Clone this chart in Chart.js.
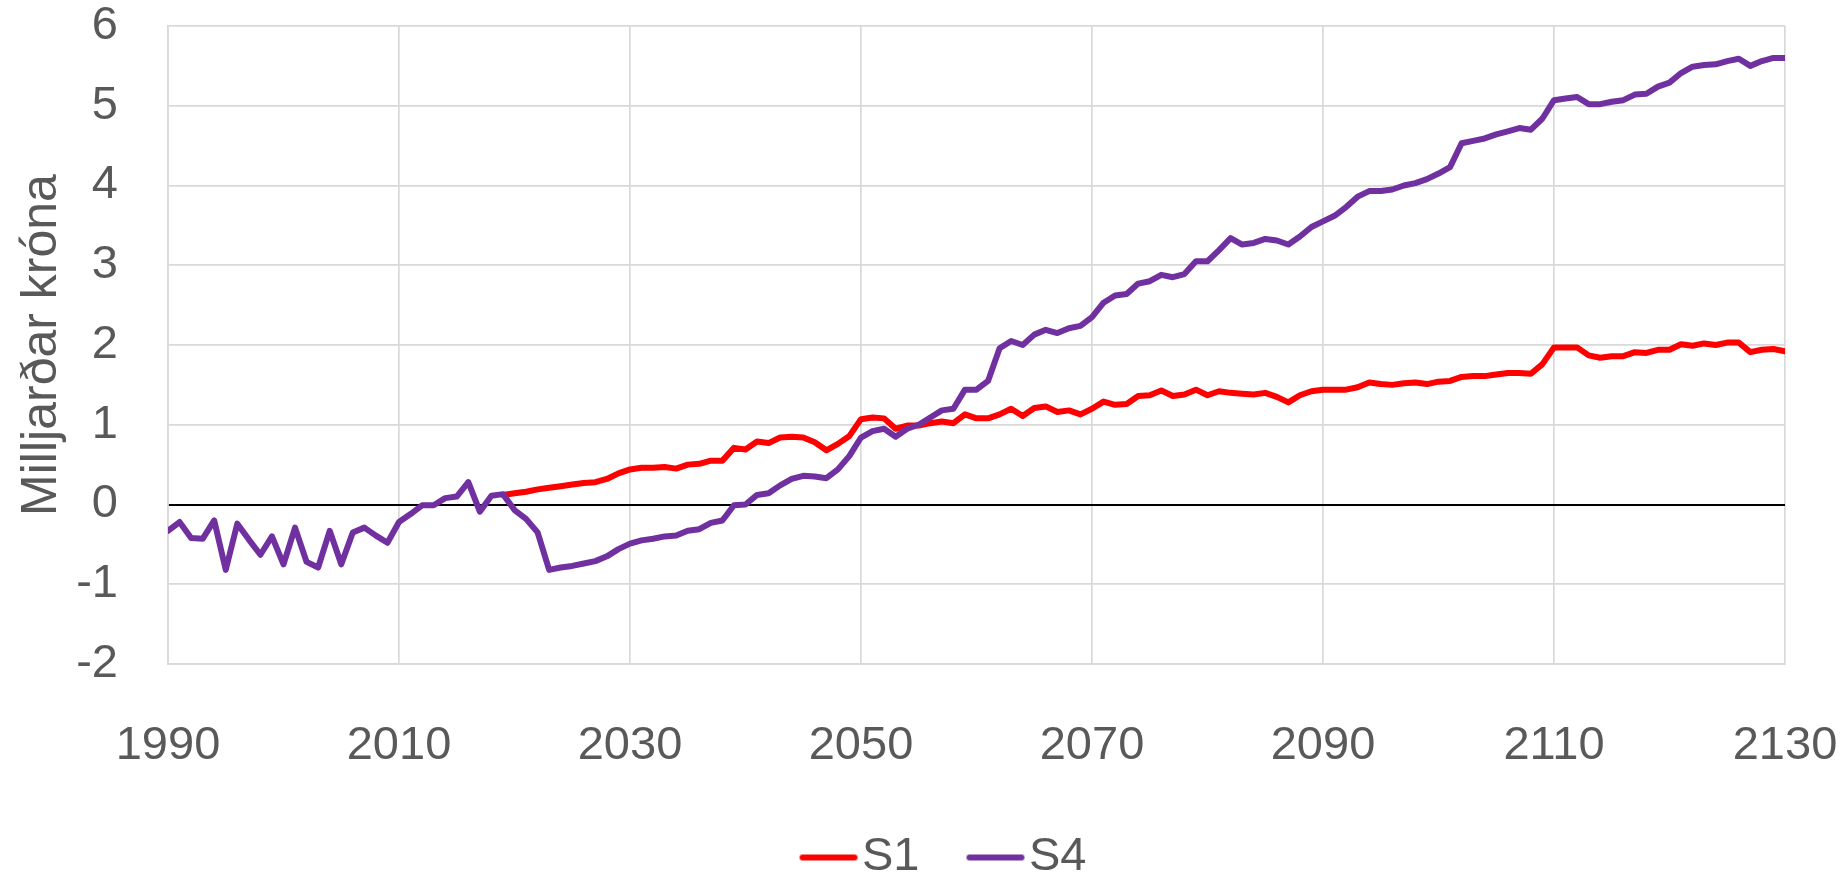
<!DOCTYPE html>
<html>
<head>
<meta charset="utf-8">
<script src="https://cdn.jsdelivr.net/npm/chart.js@4"></script>
<style>
  body { margin: 0; background: #fff; }
  #wrap { width: 1847px; height: 876px; }
</style>
</head>
<body>
<div id="wrap"><canvas id="myChart"></canvas></div>
<script>
// S4 runs 1990-2130, S1 starts 2019
var s4Start = 1990;
var s1Start = 2019;

var s4Values = [
  -0.33, -0.22, -0.42, -0.43, -0.20, -0.82, -0.24, -0.44, -0.63, -0.40,
  -0.75, -0.29, -0.72, -0.79, -0.33, -0.75, -0.35, -0.29, -0.39, -0.48,
  -0.22, -0.12, -0.01, -0.01, 0.08, 0.10, 0.28, -0.09, 0.11, 0.13,
  -0.07, -0.18, -0.35, -0.82, -0.79, -0.77, -0.74, -0.71, -0.65, -0.56,
  -0.49, -0.45, -0.43, -0.40, -0.39, -0.33, -0.31, -0.23, -0.20, -0.01,
  0.00, 0.12, 0.14, 0.24, 0.32, 0.36, 0.35, 0.33, 0.44, 0.61,
  0.84, 0.92, 0.95, 0.85, 0.95, 1.00, 1.09, 1.18, 1.20, 1.44,
  1.44, 1.55, 1.96, 2.05, 2.00, 2.13, 2.19, 2.15, 2.21, 2.24,
  2.35, 2.53, 2.62, 2.64, 2.77, 2.80, 2.88, 2.85, 2.89, 3.05,
  3.05, 3.19, 3.34, 3.26, 3.28, 3.33, 3.31, 3.26, 3.36, 3.48,
  3.55, 3.62, 3.73, 3.86, 3.93, 3.93, 3.95, 4.00, 4.03, 4.08,
  4.15, 4.23, 4.53, 4.56, 4.59, 4.64, 4.68, 4.72, 4.70, 4.84,
  5.07, 5.09, 5.11, 5.02, 5.02, 5.05, 5.07, 5.14, 5.15, 5.24,
  5.29, 5.41, 5.49, 5.51, 5.52, 5.56, 5.59, 5.50, 5.56, 5.60,
  5.60
];

var s1Values = [
  0.12,
  0.14, 0.16, 0.19, 0.21, 0.23, 0.25, 0.27, 0.28, 0.32, 0.39,
  0.44, 0.46, 0.46, 0.47, 0.45, 0.50, 0.51, 0.55, 0.55, 0.71,
  0.69, 0.79, 0.77, 0.84, 0.85, 0.84, 0.78, 0.68, 0.76, 0.86,
  1.07, 1.09, 1.08, 0.95, 0.99, 0.99, 1.02, 1.04, 1.02, 1.13,
  1.08, 1.08, 1.13, 1.20, 1.11, 1.21, 1.23, 1.16, 1.18, 1.13,
  1.20, 1.29, 1.25, 1.26, 1.36, 1.37, 1.43, 1.36, 1.38, 1.44,
  1.37, 1.42, 1.40, 1.39, 1.38, 1.40, 1.35, 1.28, 1.37, 1.42,
  1.44, 1.44, 1.44, 1.47, 1.53, 1.51, 1.50, 1.52, 1.53, 1.51,
  1.54, 1.55, 1.60, 1.61, 1.61, 1.63, 1.65, 1.65, 1.64, 1.76,
  1.97, 1.97, 1.97, 1.87, 1.84, 1.86, 1.86, 1.91, 1.90, 1.94,
  1.94, 2.01, 1.99, 2.02, 2.00, 2.03, 2.03, 1.91, 1.94, 1.95,
  1.92
];

var xTicks = [1990, 2010, 2030, 2050, 2070, 2090, 2110, 2130];
var yTicks = [-2, -1, 0, 1, 2, 3, 4, 5, 6];

function toPoints(start, values) {
  return values.map(function (v, i) {
    return { x: start + i, y: v };
  });
}

// legend swatch: short thick line sitting right next to the label text
function legendLine(color) {
  var c = document.createElement('canvas');
  c.width = 122;
  c.height = 10;
  var g = c.getContext('2d');
  g.strokeStyle = color;
  g.lineWidth = 6;
  g.lineCap = 'round';
  g.beginPath();
  g.moveTo(64, 5);
  g.lineTo(116, 5);
  g.stroke();
  return c;
}

// push the legend row a bit lower, closer to the bottom edge
var legendNudge = {
  id: 'legendNudge',
  afterLayout: function (chart) {
    if (chart.legend) {
      chart.legend.top += 15;
      chart.legend.bottom += 15;
    }
  }
};

var textColor = '#595959';
var font = 'Liberation Sans';

var ctx = document.getElementById('myChart').getContext('2d');
var myChart = new Chart(ctx, {
  type: 'line',
  data: {
    datasets: [{
      label: 'S1',
      data: toPoints(s1Start, s1Values),
      borderColor: '#FF0000',
      backgroundColor: '#FF0000',
      pointStyle: legendLine('#FF0000'),
      borderWidth: 6,
      order: 1
    }, {
      label: 'S4',
      data: toPoints(s4Start, s4Values),
      borderColor: '#7030A0',
      backgroundColor: '#7030A0',
      pointStyle: legendLine('#7030A0'),
      borderWidth: 6,
      order: 0
    }]
  },
  plugins: [legendNudge],
  options: {
    responsive: true,
    maintainAspectRatio: false,
    animation: false,
    layout: { padding: { top: 26, right: 0, bottom: 0, left: 0 } },
    elements: {
      point: { radius: 0 },
      line: { tension: 0, borderJoinStyle: 'round', borderCapStyle: 'round' }
    },
    scales: {
      x: {
        type: 'linear',
        min: xTicks[0],
        max: xTicks[xTicks.length - 1],
        afterBuildTicks: function (scale) {
          scale.ticks = xTicks.map(function (v) { return { value: v }; });
        },
        afterFit: function (scale) {
          scale.height = 147;
          scale.paddingLeft = 0;
          scale.paddingRight = 0;
        },
        grid: { color: '#d9d9d9', lineWidth: 1.7, drawTicks: false },
        border: { color: '#d9d9d9', width: 1.7 },
        ticks: {
          padding: 54,
          color: textColor,
          font: { family: font, size: 47 },
          maxRotation: 0,
          callback: function (v) { return String(v); }
        }
      },
      y: {
        min: yTicks[0],
        max: yTicks[yTicks.length - 1],
        afterBuildTicks: function (scale) {
          scale.ticks = yTicks.map(function (v) { return { value: v }; });
        },
        afterFit: function (scale) {
          scale.width = 168;
          scale.paddingTop = 0;
          scale.paddingBottom = 0;
        },
        grid: {
          drawTicks: false,
          color: function (c) { return c.tick && c.tick.value === 0 ? '#000000' : '#d9d9d9'; },
          lineWidth: function (c) { return c.tick && c.tick.value === 0 ? 2 : 1.7; }
        },
        border: { color: '#d9d9d9', width: 1.7 },
        ticks: {
          padding: 50,
          color: textColor,
          font: { family: font, size: 47 }
        },
        title: {
          display: true,
          text: 'Milljarðar króna',
          color: textColor,
          font: { family: font, size: 50 },
          padding: { top: 12, bottom: 0 }
        }
      },
      // empty right-hand strip so the plot ends at 2130 with room for its label
      yRight: {
        position: 'right',
        min: 0,
        max: 1,
        grid: { display: false },
        border: { display: false },
        ticks: { display: false },
        afterFit: function (scale) {
          scale.width = 62;
          scale.paddingTop = 0;
          scale.paddingBottom = 0;
        }
      }
    },
    plugins: {
      legend: {
        position: 'bottom',
        labels: {
          color: textColor,
          font: { family: font, size: 47 },
          usePointStyle: true,
          pointStyleWidth: 78,
          padding: 8,
          sort: function (a, b) { return a.datasetIndex - b.datasetIndex; }
        }
      },
      tooltip: { enabled: false }
    }
  }
});
</script>
</body>
</html>
